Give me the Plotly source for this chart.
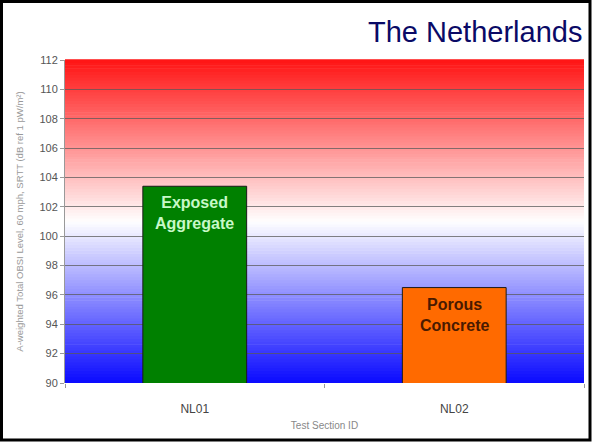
import plotly.graph_objects as go

# ---- data ----
sections = ["NL01", "NL02"]
levels = [103.4, 96.5]
labels = ["Exposed<br>Aggregate", "Porous<br>Concrete"]
bar_colors = ["#008000", "#FF6A00"]
label_colors = ["#C8F8C8", "#4A1A00"]
y_ticks = [90, 92, 94, 96, 98, 100, 102, 104, 106, 108, 110, 112]

W, H = 592, 442
ML, MR, MT, MB = 65, 8, 60, 59
PW, PH = W - ML - MR, H - MT - MB

fig = go.Figure()
fig.add_trace(go.Bar(
    x=sections, y=levels, width=0.4,
    marker=dict(color=bar_colors, line=dict(color="#1a1a1a", width=1)),
    hoverinfo="skip",
))

# gradient background: red (top) -> white (middle) -> blue (bottom)
shapes = []
N = 110
for i in range(N):
    t = (i + 0.5) / N  # 0 bottom, 1 top
    if t >= 0.5:
        f = (t - 0.5) / 0.5
        r, g, b = 255, int(255 * (1 - f) + 20 * f), int(255 * (1 - f) + 20 * f)
    else:
        f = (0.5 - t) / 0.5
        r, g, b = int(255 * (1 - f) + 10 * f), int(255 * (1 - f) + 10 * f), 255
    shapes.append(dict(type="rect", xref="paper", yref="paper",
                       x0=0, x1=1, y0=i / N, y1=(i + 1) / N + 0.002,
                       fillcolor=f"rgb({r},{g},{b})", line=dict(width=0),
                       layer="below"))
# outer frame
shapes.append(dict(type="rect", xref="paper", yref="paper",
                   x0=(1.5 - ML) / PW, x1=(W - 2 - ML) / PW,
                   y0=-(H - 2 - (MT + PH)) / PH, y1=1 + (MT - 1.5) / PH,
                   line=dict(color="black", width=3), fillcolor="rgba(0,0,0,0)",
                   layer="above"))

annotations = [dict(text="The Netherlands", xref="paper", yref="paper",
                    x=1.0, y=1 + (MT - 32) / PH, xanchor="right", yanchor="middle",
                    showarrow=False,
                    font=dict(family="Liberation Sans, Arial", size=29, color="#0A0A66"))]
for sec, lev, lab, col in zip(sections, levels, labels, label_colors):
    annotations.append(dict(x=sec, y=lev, xref="x", yref="y", text=lab,
                            showarrow=False, xanchor="center", yanchor="top",
                            yshift=-6,
                            font=dict(family="Liberation Sans, Arial", size=16,
                                      color=col, weight="bold")))

fig.update_layout(
    width=W, height=H,
    margin=dict(l=ML, r=MR, t=MT, b=MB),
    paper_bgcolor="white", plot_bgcolor="white",
    shapes=shapes,
    showlegend=False,
    font=dict(family="Liberation Sans, Arial", color="#555555"),
    annotations=annotations,
    xaxis=dict(
        title=dict(text="Test Section ID", font=dict(size=10, color="#888888"), standoff=6),
        tickfont=dict(size=12, color="#444444"),
        showgrid=False, showline=False, zeroline=False,
        tickson="boundaries", ticks="outside", ticklen=4, tickcolor="#999999",
        ticklabelstandoff=17,
    ),
    yaxis=dict(
        range=[90, 112], tickvals=y_ticks,
        title=dict(text="A-weighted Total OBSI Level, 60 mph, SRTT (dB ref 1 pW/m²)",
                   font=dict(size=9.5, color="#999999"), standoff=14),
        tickfont=dict(size=11, color="#555555"),
        showgrid=True, gridcolor="rgba(90,90,90,0.75)", gridwidth=1,
        showline=True, linecolor="#999999", linewidth=1,
        ticks="outside", ticklen=4, tickcolor="#999999",
        zeroline=False,
    ),
)

fig.write_html("out.html", config={"displayModeBar": False},
               post_script="document.body.style.margin='0';document.body.style.overflow='hidden';")
